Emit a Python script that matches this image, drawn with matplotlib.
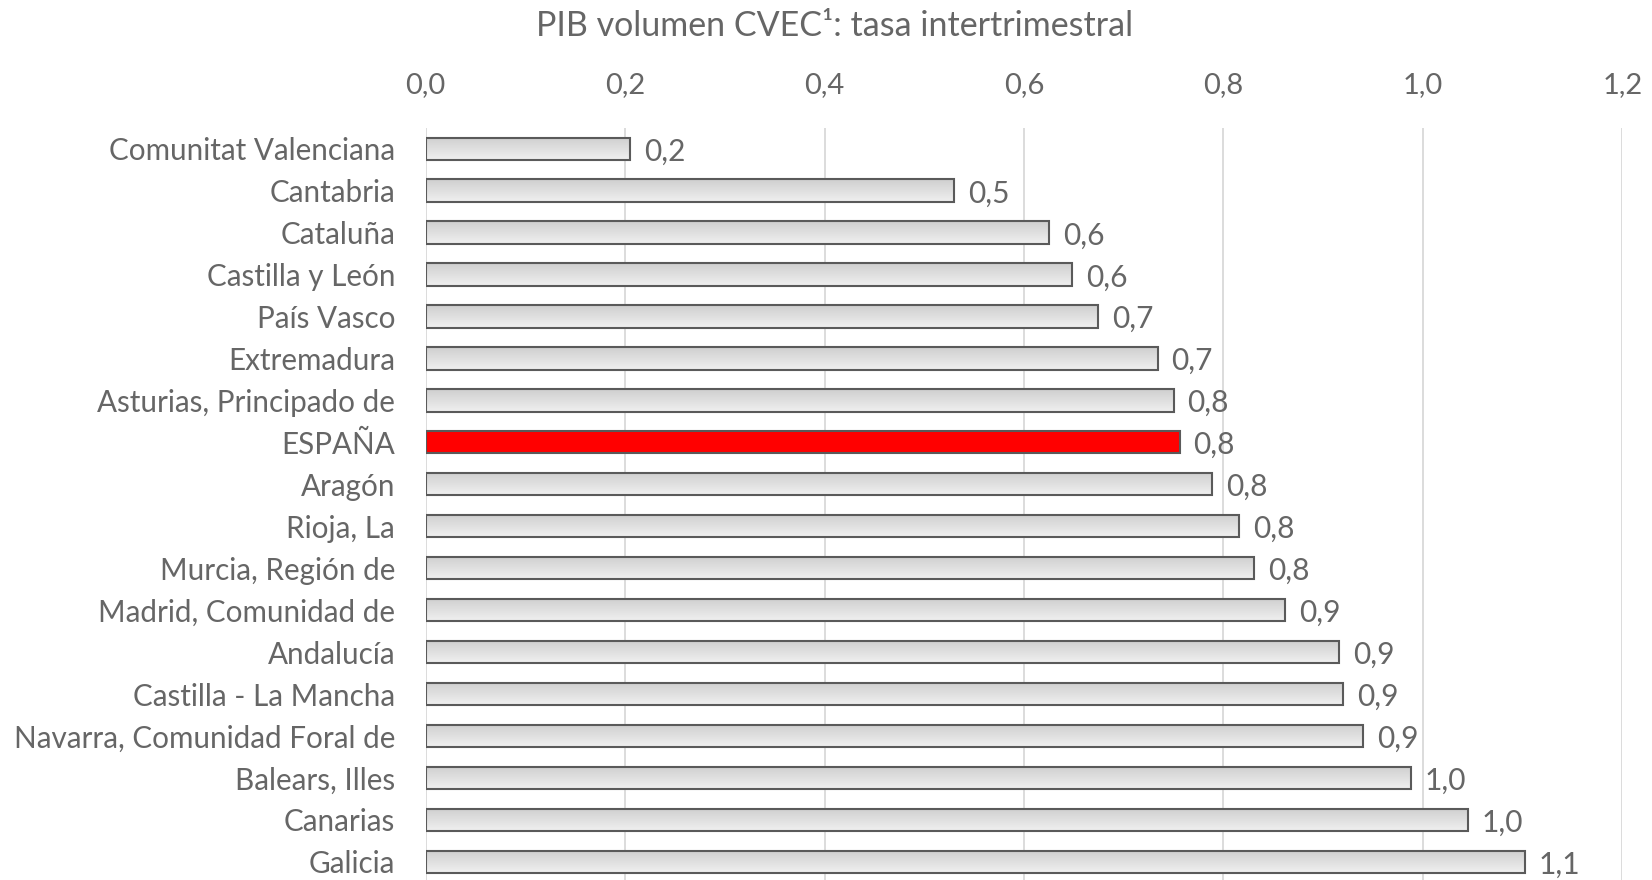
import numpy as np
import matplotlib
matplotlib.use("Agg")
from matplotlib import pyplot as plt
from matplotlib.ticker import FuncFormatter
from matplotlib.colors import LinearSegmentedColormap

plt.rcParams['font.family'] = ['Lato', 'DejaVu Sans']

regions = ['Comunitat Valenciana', 'Cantabria', 'Cataluña', 'Castilla y León',
           'País Vasco', 'Extremadura', 'Asturias, Principado de', 'ESPAÑA',
           'Aragón', 'Rioja, La', 'Murcia, Región de', 'Madrid, Comunidad de',
           'Andalucía', 'Castilla - La Mancha', 'Navarra, Comunidad Foral de',
           'Balears, Illes', 'Canarias', 'Galicia']
values = [0.205, 0.530, 0.625, 0.648, 0.674, 0.734, 0.750, 0.756, 0.789,
          0.816, 0.831, 0.862, 0.916, 0.920, 0.940, 0.988, 1.045, 1.102]
value_labels = ['0,2', '0,5', '0,6', '0,6', '0,7', '0,7', '0,8', '0,8', '0,8',
                '0,8', '0,8', '0,9', '0,9', '0,9', '0,9', '1,0', '1,0', '1,1']
highlight = 'ESPAÑA'

text_col = '#666666'
grid_col = '#d9d9d9'
edge_col = '#5a5a5a'

fig = plt.figure(figsize=(16.52, 8.8), dpi=100)
ax = fig.add_axes([0.2577, 0.0, 0.7243, 0.854])

y = np.arange(len(regions))
bh = 0.53
bars = ax.barh(y, values, height=bh, color='none', edgecolor=edge_col,
               linewidth=1.5, zorder=3)

# vertical grey gradient inside the bars (lighter on top)
grad = np.linspace(0, 1, 64).reshape(-1, 1)
cmap = LinearSegmentedColormap.from_list('g', ['#f0f0f0', '#cfcfcf'])
for b, name in zip(bars, regions):
    x0, y0 = b.get_x(), b.get_y()
    w, h = b.get_width(), b.get_height()
    if name == highlight:
        ax.add_patch(plt.Rectangle((x0, y0), w, h, facecolor='#ff0000',
                                   edgecolor='none', zorder=2))
    else:
        im = ax.imshow(grad, cmap=cmap, aspect='auto', zorder=2,
                       extent=(x0, x0 + w, y0, y0 + h), origin='upper')
        im.set_clip_path(b)

for yi, v, lab in zip(y, values, value_labels):
    ax.annotate(lab, (v, yi), xytext=(10, -2), textcoords='offset points',
                ha='left', va='center', fontsize=21.5, color=text_col)

ax.set_xlim(0, 1.2)
ax.set_ylim(17.43, -0.48)
ax.set_xticks(np.arange(0, 1.21, 0.2))
ax.xaxis.set_major_formatter(FuncFormatter(lambda v, p: f'{v:.1f}'.replace('.', ',')))
ax.xaxis.tick_top()
ax.tick_params(axis='x', length=0, pad=22, labelsize=21, labelcolor=text_col)
ax.set_yticks(y)
ax.set_yticklabels(regions)
ax.tick_params(axis='y', length=0, pad=22, labelsize=21.3, labelcolor=text_col)
ax.grid(axis='x', color=grid_col, linewidth=1.3, zorder=0)
ax.set_axisbelow(True)
for s in ax.spines.values():
    s.set_visible(False)

fig.text(0.505, 0.97, 'PIB volumen CVEC¹: tasa intertrimestral',
         ha='center', va='center', fontsize=24.5, color=text_col)

fig.savefig('out.png', dpi=100)
